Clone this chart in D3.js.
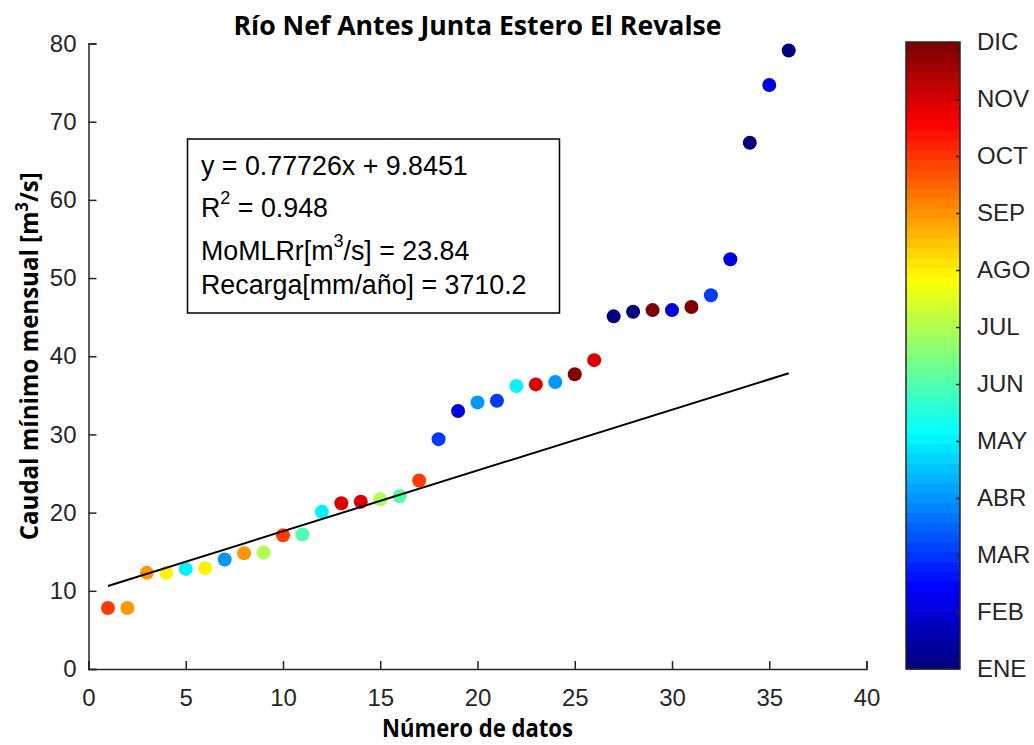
<!DOCTYPE html>
<html>
<head>
<meta charset="utf-8">
<script src="https://cdn.jsdelivr.net/npm/d3@7"></script>
<style>
  body { margin: 0; background: #fff; }
  svg { display: block; }
  .tick text { font-family: "Liberation Sans", Arial, sans-serif; font-size: 24px; fill: #262626; }
  .axis path, .axis line { stroke: #262626; stroke-width: 1.5; }
</style>
</head>
<body>
<div id="chart"></div>
<script>
// datos
var numero = [1, 2, 3, 4, 5, 6, 7, 8, 9, 10, 11, 12, 13, 14, 15, 16, 17, 18,
              19, 20, 21, 22, 23, 24, 25, 26, 27, 28, 29, 30, 31, 32, 33, 34, 35, 36];
var caudal = [7.8, 7.8, 12.3, 12.3, 12.8, 12.9, 14.0, 14.8, 14.9, 17.1, 17.2, 20.1,
              21.2, 21.4, 21.7, 22.1, 24.1, 29.4, 33.0, 34.1, 34.3, 36.2, 36.4, 36.7,
              37.7, 39.5, 45.1, 45.7, 45.9, 45.9, 46.3, 47.8, 52.4, 67.3, 74.7, 79.1];
var mes = [10, 9, 9, 8, 5, 8, 4, 9, 7, 10, 6, 5, 11, 11, 7, 6, 10, 3,
           2, 4, 3, 5, 11, 4, 12, 11, 1, 1, 12, 2, 12, 3, 2, 1, 2, 1];
var meses = ["ENE", "FEB", "MAR", "ABR", "MAY", "JUN", "JUL", "AGO", "SEP", "OCT", "NOV", "DIC"];
var xTicks = [0, 5, 10, 15, 20, 25, 30, 35, 40];
var yTicks = [0, 10, 20, 30, 40, 50, 60, 70, 80];
var pendiente = 0.77726, intercepto = 9.8451;
var ajusteX = [1, 36];

function dibujar() {
    var width = 1034, height = 745;
    var mLeft = 88.5, mRight = 866.5, mTop = 43.5, mBottom = 669;

    var svg = d3.select("#chart").append("svg")
        .attr("width", width)
        .attr("height", height);

    svg.append("rect").attr("width", width).attr("height", height).attr("fill", "#fff");

    var x = d3.scaleLinear().domain([0, 40]).range([mLeft, mRight]);
    var y = d3.scaleLinear().domain([0, 80]).range([mBottom, mTop]);

    // jet colormap (matlab)
    var jet = d3.scaleLinear()
        .domain([0, 0.125, 0.375, 0.625, 0.875, 1])
        .range(["#000080", "#0000ff", "#00ffff", "#ffff00", "#ff0000", "#800000"])
        .interpolate(d3.interpolateRgb);
    var color = function (m) { return jet((m - 1) / 11); };

    // ejes
    svg.append("g")
        .attr("class", "axis")
        .attr("transform", "translate(0," + mBottom + ")")
        .call(d3.axisBottom(x).tickValues(xTicks).tickSize(-8).tickPadding(20));

    svg.append("g")
        .attr("class", "axis")
        .attr("transform", "translate(" + mLeft + ",0)")
        .call(d3.axisLeft(y).tickValues(yTicks).tickSize(-8).tickPadding(12));

    // puntos
    svg.append("g")
        .selectAll("circle")
        .data(numero)
        .enter().append("circle")
        .attr("cx", function (d) { return x(d); })
        .attr("cy", function (d, i) { return y(caudal[i]); })
        .attr("r", 7)
        .attr("fill", function (d, i) { return color(mes[i]); });

    // recta de ajuste
    svg.append("line")
        .attr("x1", x(ajusteX[0]))
        .attr("y1", y(pendiente * ajusteX[0] + intercepto))
        .attr("x2", x(ajusteX[1]))
        .attr("y2", y(pendiente * ajusteX[1] + intercepto))
        .attr("stroke", "#000")
        .attr("stroke-width", 2);

    // cuadro de texto
    var box = svg.append("g");
    box.append("rect")
        .attr("x", 187.5).attr("y", 139)
        .attr("width", 372).attr("height", 174)
        .attr("fill", "#fff").attr("stroke", "#000").attr("stroke-width", 1.5);

    function boxText(yy) {
        return box.append("text").attr("x", 201).attr("y", yy)
            .attr("font-family", "Liberation Sans, Arial, sans-serif")
            .attr("font-size", "26.8px").attr("fill", "#000");
    }
    boxText(175).text("y = " + pendiente + "x + " + intercepto);
    var t2 = boxText(217);
    t2.append("tspan").text("R");
    t2.append("tspan").attr("dy", -13).attr("font-size", "18px").text("2");
    t2.append("tspan").attr("dy", 13).text(" = 0.948");
    var t3 = boxText(260);
    t3.append("tspan").text("MoMLRr[m");
    t3.append("tspan").attr("dy", -13).attr("font-size", "18px").text("3");
    t3.append("tspan").attr("dy", 13).text("/s] = 23.84");
    boxText(293.5).text("Recarga[mm/año] = 3710.2");

    // titulo y etiquetas
    var bold = "Open Sans, Noto Sans, sans-serif";
    svg.append("text")
        .attr("x", (mLeft + mRight) / 2).attr("y", 35)
        .attr("text-anchor", "middle")
        .attr("font-family", bold).attr("font-weight", "bold").attr("font-size", "27px")
        .attr("textLength", 488).attr("lengthAdjust", "spacingAndGlyphs")
        .text("Río Nef Antes Junta Estero El Revalse");

    svg.append("text")
        .attr("x", (mLeft + mRight) / 2).attr("y", 737)
        .attr("text-anchor", "middle")
        .attr("font-family", bold).attr("font-weight", "bold").attr("font-size", "25px")
        .attr("textLength", 191).attr("lengthAdjust", "spacingAndGlyphs")
        .text("Número de datos");

    var yl = svg.append("text")
        .attr("transform", "translate(38," + (mTop + mBottom) / 2 + ") rotate(-90)")
        .attr("text-anchor", "middle")
        .attr("font-family", bold).attr("font-weight", "bold").attr("font-size", "25px")
        .attr("textLength", 368).attr("lengthAdjust", "spacingAndGlyphs");
    yl.append("tspan").text("Caudal mínimo mensual [m");
    yl.append("tspan").attr("dy", -10).attr("font-size", "17px").text("3");
    yl.append("tspan").attr("dy", 10).text("/s]");

    // barra de colores
    var cbX = 906, cbW = 54, cbTop = 42;
    var cy = d3.scaleLinear().domain([1, 12]).range([mBottom, cbTop]);
    var niveles = d3.range(64);
    var band = d3.scaleBand().domain(niveles).range([mBottom, cbTop]);
    svg.append("g")
        .selectAll("rect")
        .data(niveles)
        .enter().append("rect")
        .attr("x", cbX)
        .attr("y", function (d) { return band(d); })
        .attr("width", cbW)
        .attr("height", band.bandwidth() + 0.6)
        .attr("fill", function (d) { return jet(d / 63); });

    var cbAxis = svg.append("g")
        .attr("class", "axis")
        .attr("transform", "translate(" + (cbX + cbW) + ",0)")
        .call(d3.axisRight(cy).tickValues(d3.range(1, 13)).tickSize(-4).tickSizeOuter(0).tickPadding(17)
            .tickFormat(function (d) { return meses[d - 1]; }));
    cbAxis.select(".domain").remove();
    cbAxis.selectAll(".tick line").filter(function (d) { return d === 1 || d === 12; }).remove();

    svg.append("rect")
        .attr("x", cbX).attr("y", cbTop)
        .attr("width", cbW).attr("height", mBottom - cbTop)
        .attr("fill", "none").attr("stroke", "#262626").attr("stroke-width", 1.5);
}

dibujar();
</script>
</body>
</html>
